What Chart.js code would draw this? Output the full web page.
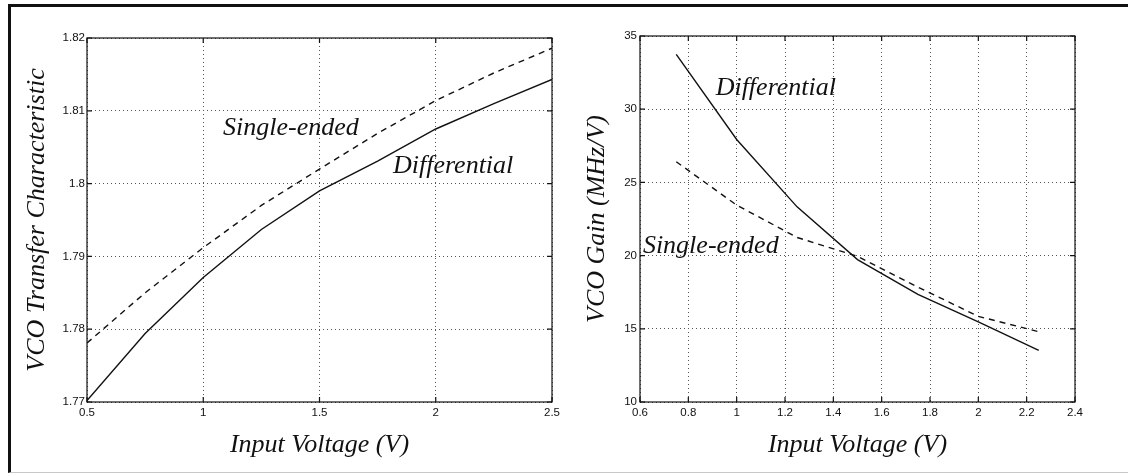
<!DOCTYPE html>
<html><head><meta charset="utf-8">
<script src="https://cdn.jsdelivr.net/npm/chart.js@4.4.1/dist/chart.umd.min.js"></script>
<style>
html,body{margin:0;padding:0;background:#fff;}
body{width:1128px;height:473px;position:relative;overflow:hidden;}
#frame{position:absolute;left:8px;top:4px;width:1120px;height:469px;box-sizing:border-box;
  border-top:3px solid #111;border-left:3px solid #111;border-bottom:1px solid #c8c8c8;}
canvas{position:absolute;top:0;}
#transfer{left:0;}
#gain{left:564px;}
</style></head><body>
<div id="frame"></div>
<canvas id="transfer" width="564" height="473"></canvas>
<canvas id="gain" width="564" height="473"></canvas>
<script>
// VCO transfer characteristic vs input voltage
const transferVoltage      = [0.5, 0.75, 1, 1.25, 1.5, 1.75, 2, 2.25, 2.5];
const transferDifferential = [1.7702, 1.7794, 1.7871, 1.7937, 1.7990, 1.8031, 1.8075, 1.8110, 1.8143];
const transferSingleEnded  = [1.7781, 1.7850, 1.7912, 1.7970, 1.8020, 1.8069, 1.8114, 1.8152, 1.8186];

// VCO gain (MHz/V) vs input voltage
const gainVoltage      = [0.75, 1, 1.25, 1.5, 1.75, 2, 2.25];
const gainDifferential = [33.75, 27.93, 23.33, 19.73, 17.35, 15.47, 13.53];
const gainSingleEnded  = [26.41, 23.45, 21.24, 19.95, 17.85, 15.85, 14.80];

// tick values and their labels
const transferXTicks  = [0.5, 1, 1.5, 2, 2.5];
const transferXLabels = ['0.5', '1', '1.5', '2', '2.5'];
const transferYTicks  = [1.77, 1.78, 1.79, 1.8, 1.81, 1.82];
const transferYLabels = ['1.77', '1.78', '1.79', '1.8', '1.81', '1.82'];
const gainXTicks  = [0.6, 0.8, 1, 1.2, 1.4, 1.6, 1.8, 2, 2.2, 2.4];
const gainXLabels = ['0.6', '0.8', '1', '1.2', '1.4', '1.6', '1.8', '2', '2.2', '2.4'];
const gainYTicks  = [10, 15, 20, 25, 30, 35];
const gainYLabels = ['10', '15', '20', '25', '30', '35'];

const INK = '#111';
const TITLE_FONT = {family: '"Liberation Serif", "Times New Roman", serif', style: 'italic', size: 26, lineHeight: 1.2};
const TICK_FONT = {family: '"Liberation Sans", Arial, sans-serif', size: 11.5};

function toPoints(xs, ys) { return xs.map((x, i) => ({x, y: ys[i]})); }

// boxed axes with inward tick marks and in-plot curve labels
const boxPlugin = {
  id: 'boxAxes',
  afterDraw(chart, args, opts) {
    const {ctx, chartArea: a, scales: {x, y}} = chart;
    ctx.save();
    ctx.strokeStyle = INK;
    ctx.lineWidth = 1.2;
    ctx.strokeRect(a.left, a.top, a.right - a.left, a.bottom - a.top);
    const L = 5;
    ctx.beginPath();
    x.ticks.forEach(t => {
      const px = x.getPixelForValue(t.value);
      ctx.moveTo(px, a.bottom); ctx.lineTo(px, a.bottom - L);
      ctx.moveTo(px, a.top); ctx.lineTo(px, a.top + L);
    });
    y.ticks.forEach(t => {
      const py = y.getPixelForValue(t.value);
      ctx.moveTo(a.left, py); ctx.lineTo(a.left + L, py);
      ctx.moveTo(a.right, py); ctx.lineTo(a.right - L, py);
    });
    ctx.stroke();
    ctx.fillStyle = INK;
    ctx.font = 'italic 26px "Liberation Serif", "Times New Roman", serif';
    ctx.textAlign = 'left';
    ctx.textBaseline = 'alphabetic';
    (opts.notes || []).forEach(n => {
      ctx.fillText(n.text, x.getPixelForValue(n.x), y.getPixelForValue(n.y));
    });
    ctx.restore();
  }
};

function makePlot(id, cfg) {
  const line = (label, xs, ys, dash) => ({
    label, data: toPoints(xs, ys), showLine: true, pointRadius: 0,
    borderColor: INK, borderWidth: 1.4, borderDash: dash, tension: 0
  });
  return new Chart(document.getElementById(id), {
    type: 'scatter',
    data: {datasets: [
      line('Differential', cfg.xs, cfg.diff, []),
      line('Single-ended', cfg.xs, cfg.single, [6, 5])
    ]},
    options: {
      responsive: false, animation: false, devicePixelRatio: 1,
      layout: {padding: {top: cfg.top, right: cfg.right, bottom: 0, left: 0}},
      plugins: {legend: {display: false}, tooltip: {enabled: false}, boxAxes: {notes: cfg.notes}},
      scales: {
        x: {
          type: 'linear', min: cfg.xTicks[0], max: cfg.xTicks[cfg.xTicks.length - 1],
          afterBuildTicks: s => { s.ticks = cfg.xTicks.map(v => ({value: v})); },
          afterFit: s => { s.height = 473 - cfg.bottom; },
          ticks: {color: INK, font: TICK_FONT, padding: 4, maxRotation: 0, autoSkip: false,
                  callback: (v, i) => cfg.xLabels[i]},
          grid: {color: '#555', lineWidth: 1, drawTicks: false},
          border: {display: false, dash: [1, 3]},
          title: {display: true, text: 'Input Voltage (V)', color: INK, font: TITLE_FONT,
                  padding: {top: 0, bottom: 12}}
        },
        y: {
          type: 'linear', min: cfg.yTicks[0], max: cfg.yTicks[cfg.yTicks.length - 1],
          afterBuildTicks: s => { s.ticks = cfg.yTicks.map(v => ({value: v})); },
          afterFit: s => { s.width = cfg.left; },
          ticks: {color: INK, font: TICK_FONT, padding: cfg.yPad, autoSkip: false,
                  callback: (v, i) => cfg.yLabels[i]},
          grid: {color: '#555', lineWidth: 1, drawTicks: false},
          border: {display: false, dash: [1, 3]},
          title: {display: true, text: cfg.yTitle, color: INK, font: TITLE_FONT,
                  padding: {top: cfg.yTitlePad, bottom: 0}}
        }
      }
    },
    plugins: [boxPlugin]
  });
}

makePlot('transfer', {
  xs: transferVoltage, diff: transferDifferential, single: transferSingleEnded,
  xTicks: transferXTicks, xLabels: transferXLabels, yTicks: transferYTicks, yLabels: transferYLabels,
  yTitle: 'VCO Transfer Characteristic',
  left: 87, right: 12, top: 38, bottom: 402, yPad: 2, yTitlePad: 22,
  notes: [
    {text: 'Single-ended', x: 1.085, y: 1.8067},
    {text: 'Differential', x: 1.816, y: 1.8015}
  ]
});

makePlot('gain', {
  xs: gainVoltage, diff: gainDifferential, single: gainSingleEnded,
  xTicks: gainXTicks, xLabels: gainXLabels, yTicks: gainYTicks, yLabels: gainYLabels,
  yTitle: 'VCO Gain (MHz/V)',
  left: 76, right: 53, top: 36, bottom: 402, yPad: 3, yTitlePad: 18,
  notes: [
    {text: 'Differential', x: 0.913, y: 30.97},
    {text: 'Single-ended', x: 0.612, y: 20.18}
  ]
});
</script>
</body></html>
